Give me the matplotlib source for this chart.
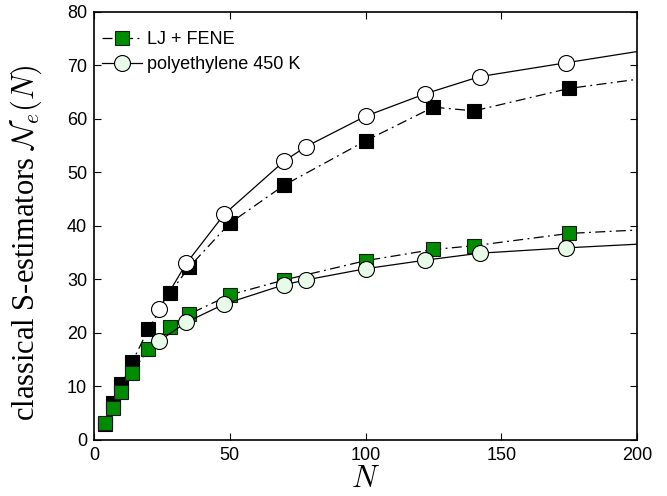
import matplotlib
matplotlib.use('Agg')
import matplotlib.pyplot as plt
import numpy

# LJ + FENE bead-spring chains (squares), two estimator families
n_lj = [4, 7, 10, 14, 20, 28, 35, 50, 70, 100, 125, 140, 175, 250]
ne_lj_upper = [3.0, 6.9, 10.4, 14.5, 20.7, 27.5, 32.3, 40.5, 47.6, 55.9, 62.2, 61.5, 65.7, 70.8]
ne_lj_lower = [3.1, 5.9, 8.9, 12.6, 17.0, 21.2, 23.5, 27.1, 29.9, 33.5, 35.6, 36.3, 38.6, 40.5]

# polyethylene melt at 450 K (circles)
n_pe = [24, 34, 48, 70, 78, 100, 122, 142, 174, 250]
ne_pe_upper = [24.5, 33.0, 42.2, 52.1, 54.8, 60.5, 64.7, 67.9, 70.5, 76.6]
ne_pe_lower = [18.5, 22.0, 25.4, 29.0, 29.9, 32.0, 33.6, 34.9, 35.9, 37.9]

green = '#008c00'
light_green = '#e8fbe8'
dashdot = (8, 3.5, 1.5, 3.5)

plt.rcParams['font.family'] = ['Liberation Sans', 'DejaVu Sans']
plt.rcParams['mathtext.fontset'] = 'cm'

fig = plt.figure(figsize=(6.67, 4.96), dpi=100)
ax = fig.add_axes([0.141, 0.113, 0.814, 0.863])

ax.plot(n_lj, ne_lj_upper, '-.', dashes=dashdot, color='k', lw=0.9, marker='s',
        ms=10, mfc='k', mec='k', mew=0.8, zorder=2)
ax.plot(n_pe, ne_pe_upper, '-', color='k', lw=0.9, marker='o', ms=11.5,
        mfc='white', mec='k', mew=0.8, zorder=3)
ax.plot(n_lj, ne_lj_lower, '-.', dashes=dashdot, color='k', lw=0.9, marker='s',
        ms=10, mfc=green, mec='#1a1a1a', mew=0.8, zorder=4, label='LJ + FENE')
ax.plot(n_pe, ne_pe_lower, '-', color='k', lw=0.9, marker='o', ms=11.5,
        mfc=light_green, mec='k', mew=0.8, zorder=5, label='polyethylene 450 K')

ax.set_xlim(0, 200)
ax.set_ylim(0, 80)
ax.set_xticks(numpy.arange(0, 201, 50))
ax.set_yticks(numpy.arange(0, 81, 10))
ax.tick_params(direction='in', top=True, right=True, length=5, width=0.8,
               labelsize=13, pad=5)
for s in ax.spines.values():
    s.set_linewidth(1.2)

ax.set_xlabel(r'$N$', fontsize=22, labelpad=0)
ax.set_ylabel(r'classical S-estimators $\mathcal{N}_e(N)$', fontsize=22)
ax.yaxis.label.set_family(['Liberation Serif', 'DejaVu Serif'])
ax.yaxis.set_label_coords(-0.092, 0.46)

leg = ax.legend(loc='upper left', frameon=False, fontsize=13, handlelength=2.2,
                handletextpad=0.3, labelspacing=0.45, borderaxespad=0.3,
                bbox_to_anchor=(-0.008, 0.985))

fig.savefig('out.png', dpi=100)
plt.close(fig)
